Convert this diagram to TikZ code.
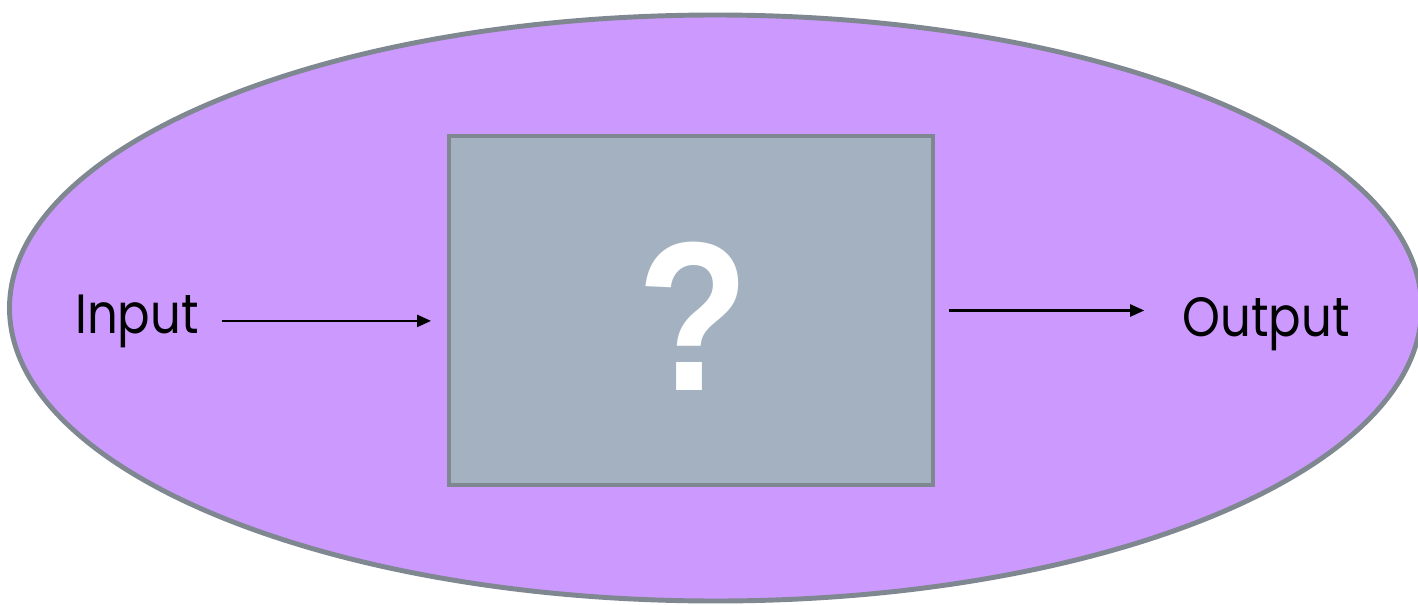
\documentclass[tikz,border=0pt]{standalone}
\usepackage{fontspec}
\setmainfont{Poppins}[FakeStretch=0.87]
\newfontfamily\qmarkfont{Liberation Sans}[FakeStretch=0.86]
\usetikzlibrary{arrows.meta}
\definecolor{hullfill}{RGB}{204,153,255}
\definecolor{hullgray}{RGB}{127,135,144}
\definecolor{boxfill}{RGB}{163,177,193}
\tikzset{
	flow/.style={-{Triangle[length=2.8mm,width=2.4mm]}, line width=1.3pt},
	label/.style={anchor=base, inner sep=0.3333em},
}
\begin{document}
\begin{tikzpicture}
			\newcommand{\mylabelfont}[1]{
				\fontsize{31.5}{38}\selectfont{#1}
			}\newcommand{\myqmarkfont}[1]{
				\qmarkfont\bfseries\fontsize{121}{140}\selectfont{#1}
			}%Frame of the page
			\useasboundingbox (0,0) rectangle (28.36,12.08);
			%Outer hull
			\coordinate (centre) at (14.31,5.92);
			\draw [draw=hullgray, line width=2.8pt, fill=hullfill] (centre) ellipse [x radius=14.12, y radius=5.86];
			%The unknown box
			\coordinate (boxcentre) at (13.82,5.87);
			\node (box) [draw=hullgray, line width=2.2pt, fill=boxfill, minimum width=9.68cm, minimum height=6.98cm] at (boxcentre) {};
			\coordinate (qbase) at (13.86,4.28);
			\node (qmark) [anchor=base, text=white] at (qbase) {\myqmarkfont{?}};
			%Labels left and right
			\coordinate (inbase) at (2.74,5.42);
			\coordinate (outbase) at (25.32,5.36);
			\node (inp) [label] at (inbase) {\mylabelfont{Input}};
			\node (out) [label] at (outbase) {\mylabelfont{Output}};
			%Arrows
			\draw [flow, shorten <=0.34cm, shorten >=0.32cm] (inp.east) -- (inp.east -| box.west);
			\draw [flow, shorten <=0.28cm, shorten >=0.64cm] (box.east) -- (box.east -| out.west);
\end{tikzpicture}
\end{document}
